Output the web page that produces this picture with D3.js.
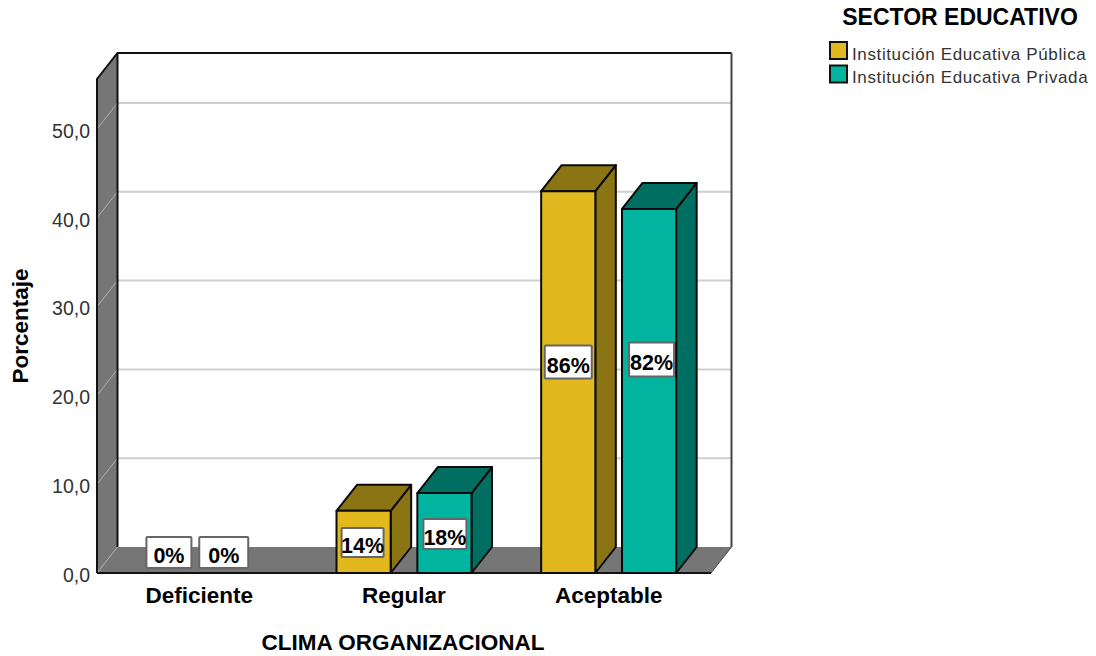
<!doctype html>
<html>
<head>
    <meta charset="utf-8">
    <style>
        html, body { margin: 0; padding: 0; background: #fff; }
        svg { display: block; }
        text { font-family: "Liberation Sans", Arial, sans-serif; fill: #000; }
        .tick-y text { font-size: 19.5px; fill: #333; }
        .tick-x text { font-size: 22.5px; font-weight: bold; }
        .title { font-size: 22.5px; font-weight: bold; }
        .legend-title { font-size: 23px; font-weight: bold; }
        .legend-text { font-size: 17px; fill: #333; letter-spacing: 0.62px; }
        .bar-label text { font-size: 21.5px; font-weight: bold; }
    </style>
    <script src="https://d3js.org/d3.v7.min.js"></script>
</head>
<body>
<svg width="1096" height="656"></svg>
<script>
var categories = ["Deficiente", "Regular", "Aceptable"];
var sectors = ["Institución Educativa Pública", "Institución Educativa Privada"];
// percentages inside each sector, as printed on the bars
var publica = [0, 14, 86];
var privada = [0, 18, 82];
var yTicks = [0, 10, 20, 30, 40, 50];

var sectorColors = ["#e1b91f", "#00b4a0"];
var sectorDark = ["#8a7414", "#006f62"];

// each sector is half of the sample, so the axis reads percent of total
var sectorShare = 0.5;

var svg = d3.select("svg");

var left = 97, right = 711, bottom = 573, top10 = 484.2;
var depthX = 20.5, depthY = -26;
var wallTop = 79;

var xScale = d3.scaleBand().domain(categories).range([left, right]);
var xInner = d3.scaleBand().domain(sectors).range([-67.5, 67.5]).paddingInner(0.33);
var yScale = d3.scaleLinear().domain([0, 10]).range([bottom, top10]);

function poly(points) {
    return points.map(function(p) { return p.join(","); }).join(" ");
}

// back wall
svg.append("rect")
    .attr("x", left + depthX)
    .attr("y", wallTop + depthY)
    .attr("width", right - left)
    .attr("height", bottom - wallTop)
    .attr("fill", "#fff");

// left wall and floor
svg.append("polygon")
    .attr("fill", "#767676")
    .attr("points", poly([[left, wallTop], [left + depthX, wallTop + depthY], [left + depthX, bottom + depthY], [left, bottom]]));
svg.append("polygon")
    .attr("fill", "#767676")
    .attr("points", poly([[left, bottom], [right, bottom], [right + depthX, bottom + depthY], [left + depthX, bottom + depthY]]));

// grid lines on the back wall, continuing down the side wall
yTicks.slice(1).forEach(function(t) {
    svg.append("line")
        .attr("x1", left + depthX).attr("x2", right + depthX)
        .attr("y1", yScale(t) + depthY).attr("y2", yScale(t) + depthY)
        .attr("stroke", "#cfcfcf").attr("stroke-width", 2);
    svg.append("line")
        .attr("x1", left).attr("x2", left + depthX)
        .attr("y1", yScale(t)).attr("y2", yScale(t) + depthY)
        .attr("stroke", "#b0b0b0").attr("stroke-width", 1);
});
svg.append("line")
    .attr("x1", left).attr("x2", left + depthX)
    .attr("y1", bottom).attr("y2", bottom + depthY)
    .attr("stroke", "#b0b0b0").attr("stroke-width", 1);

// frame of the box
svg.append("path")
    .attr("fill", "none").attr("stroke", "#111").attr("stroke-width", 2)
    .attr("d", "M" + left + "," + bottom + "V" + wallTop + "L" + (left + depthX) + "," + (wallTop + depthY) + "H" + (right + depthX));
svg.append("line")
    .attr("x1", left + depthX).attr("x2", left + depthX)
    .attr("y1", wallTop + depthY).attr("y2", bottom + depthY)
    .attr("stroke", "#111").attr("stroke-width", 2);
svg.append("line")
    .attr("x1", right + depthX).attr("x2", right + depthX)
    .attr("y1", wallTop + depthY).attr("y2", bottom + depthY)
    .attr("stroke", "#444").attr("stroke-width", 2);
svg.append("line")
    .attr("x1", right).attr("x2", right + depthX)
    .attr("y1", bottom).attr("y2", bottom + depthY)
    .attr("stroke", "#444").attr("stroke-width", 1);
svg.append("line")
    .attr("x1", left).attr("x2", right)
    .attr("y1", bottom).attr("y2", bottom)
    .attr("stroke", "#111").attr("stroke-width", 2);

// axes
var yAxis = svg.append("g")
    .attr("class", "tick-y")
    .attr("transform", "translate(" + (left - 7) + ",2)")
    .call(d3.axisLeft(yScale).tickValues(yTicks).tickSize(0).tickPadding(0)
        .tickFormat(function(d) { return d.toFixed(1).replace(".", ","); }));
yAxis.select(".domain").remove();

var xAxis = svg.append("g")
    .attr("class", "tick-x")
    .attr("transform", "translate(0," + bottom + ")")
    .call(d3.axisBottom(xScale).tickSize(0).tickPadding(14));
xAxis.select(".domain").remove();

// bars
var bars = [];
categories.forEach(function(c, i) {
    bars.push({ cat: c, sector: 0, pct: publica[i] });
    bars.push({ cat: c, sector: 1, pct: privada[i] });
});

function barBox(d) {
    var x0 = xScale(d.cat) + xScale.bandwidth() / 2 + xInner(sectors[d.sector]);
    return { x0: x0, x1: x0 + xInner.bandwidth(), y0: yScale(d.pct * sectorShare) };
}

var barG = svg.selectAll(".bar")
    .data(bars.filter(function(d) { return d.pct > 0; }))
    .enter().append("g")
    .attr("class", "bar")
    .attr("stroke", "#0a0a0a")
    .attr("stroke-width", 2)
    .attr("stroke-linejoin", "round");

barG.append("polygon")
    .attr("fill", function(d) { return sectorDark[d.sector]; })
    .attr("points", function(d) {
        var b = barBox(d);
        return poly([[b.x1, b.y0], [b.x1 + depthX, b.y0 + depthY], [b.x1 + depthX, bottom + depthY], [b.x1, bottom]]);
    });
barG.append("polygon")
    .attr("fill", function(d) { return sectorDark[d.sector]; })
    .attr("points", function(d) {
        var b = barBox(d);
        return poly([[b.x0, b.y0], [b.x0 + depthX, b.y0 + depthY], [b.x1 + depthX, b.y0 + depthY], [b.x1, b.y0]]);
    });
barG.append("rect")
    .attr("fill", function(d) { return sectorColors[d.sector]; })
    .attr("x", function(d) { return barBox(d).x0; })
    .attr("y", function(d) { return barBox(d).y0; })
    .attr("width", xInner.bandwidth())
    .attr("height", function(d) { return bottom - barBox(d).y0; });

// value labels, moved off the bar centre so they do not collide
var labelBox = {
    "Deficiente0": { dx: 10, dy: -20.5, w: 45, h: 31 },
    "Deficiente1": { dx: -16, dy: -20.5, w: 49, h: 31 },
    "Regular0": { dx: -1, dy: 0.5, w: 42, h: 29 },
    "Regular1": { dx: 0.5, dy: 1, w: 43, h: 30 },
    "Aceptable0": { dx: 0, dy: -20, w: 47, h: 33 },
    "Aceptable1": { dx: 2.5, dy: -31.5, w: 45, h: 34 }
};

var labels = svg.selectAll(".bar-label")
    .data(bars)
    .enter().append("g")
    .attr("class", "bar-label")
    .attr("transform", function(d) {
        var b = barBox(d), n = labelBox[d.cat + d.sector];
        return "translate(" + ((b.x0 + b.x1) / 2 + n.dx) + "," + ((b.y0 + bottom) / 2 + n.dy) + ")";
    });
labels.append("rect")
    .attr("x", function(d) { return -labelBox[d.cat + d.sector].w / 2; })
    .attr("y", function(d) { return -labelBox[d.cat + d.sector].h / 2; })
    .attr("width", function(d) { return labelBox[d.cat + d.sector].w; })
    .attr("height", function(d) { return labelBox[d.cat + d.sector].h; })
    .attr("rx", 1)
    .attr("fill", "#fff")
    .attr("stroke", "#666")
    .attr("stroke-width", 2);
labels.append("text")
    .attr("text-anchor", "middle")
    .attr("y", 10.5)
    .text(function(d) { return d.pct + "%"; });

// axis titles
svg.append("text")
    .attr("class", "title")
    .attr("text-anchor", "middle")
    .attr("x", 403).attr("y", 650)
    .text("CLIMA ORGANIZACIONAL");
svg.append("text")
    .attr("class", "title")
    .attr("text-anchor", "middle")
    .attr("transform", "translate(28,326) rotate(-90)")
    .text("Porcentaje");

// legend
svg.append("text")
    .attr("class", "legend-title")
    .attr("text-anchor", "middle")
    .attr("x", 960).attr("y", 25)
    .text("SECTOR EDUCATIVO");
var legend = svg.selectAll(".legend")
    .data(sectors)
    .enter().append("g")
    .attr("class", "legend")
    .attr("transform", function(d, i) { return "translate(830," + (42 + i * 23.5) + ")"; });
legend.append("rect")
    .attr("x", 0).attr("y", 0)
    .attr("width", 17).attr("height", 17)
    .attr("fill", function(d, i) { return sectorColors[i]; })
    .attr("stroke", "#111")
    .attr("stroke-width", 2);
legend.append("text")
    .attr("class", "legend-text")
    .attr("x", 22).attr("y", 17.5)
    .text(function(d) { return d; });
</script>
</body>
</html>
